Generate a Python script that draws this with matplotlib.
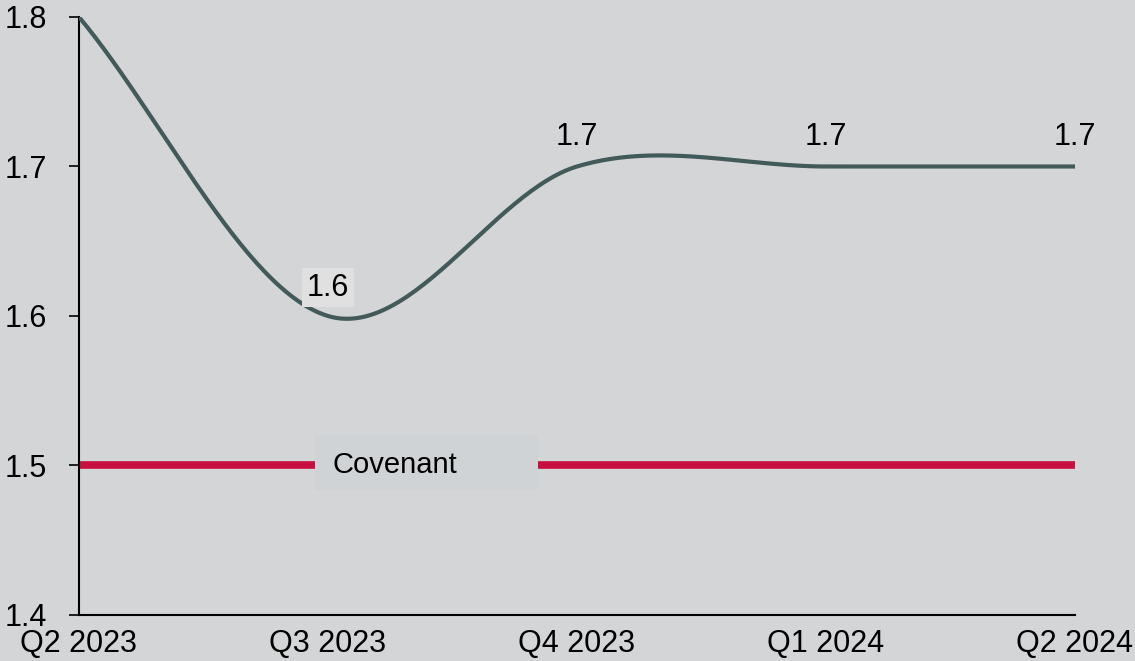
import numpy as np
import matplotlib
matplotlib.use("Agg")
import matplotlib.pyplot as plt

quarters = ["Q2 2023", "Q3 2023", "Q4 2023", "Q1 2024", "Q2 2024"]
ratio = [1.8, 1.6, 1.7, 1.7, 1.7]
covenant = 1.5
y_ticks = [1.4, 1.5, 1.6, 1.7, 1.8]

BG = "#d4d5d6"
LINE = "#435a5a"
RED = "#c8103e"
FS = 22

plt.rcParams["font.family"] = ["Liberation Sans", "DejaVu Sans"]


def smooth_curve(y, steps=60):
    """Cubic Hermite curve through the points; central-difference tangents
    inside, one-sided tangents at the two ends."""
    y = np.asarray(y, dtype=float)
    n = len(y)
    m = np.zeros(n)
    m[0] = y[1] - y[0]
    m[-1] = y[-1] - y[-2]
    for i in range(1, n - 1):
        m[i] = (y[i + 1] - y[i - 1]) / 2.0
    xs, ys = [], []
    for i in range(n - 1):
        t = np.linspace(0, 1, steps, endpoint=(i == n - 2))
        h00 = 2 * t**3 - 3 * t**2 + 1
        h10 = t**3 - 2 * t**2 + t
        h01 = -2 * t**3 + 3 * t**2
        h11 = t**3 - t**2
        xs.append(i + t)
        ys.append(h00 * y[i] + h10 * m[i] + h01 * y[i + 1] + h11 * m[i + 1])
    return np.concatenate(xs), np.concatenate(ys)


fig = plt.figure(figsize=(11.35, 6.61), dpi=100, facecolor=BG)
ax = fig.add_axes([0.0696, 0.0696, 0.8775, 0.9047], facecolor=BG)

x = np.arange(len(quarters))
cx, cy = smooth_curve(ratio)
ax.plot(cx, cy, color=LINE, lw=3, solid_capstyle="round", zorder=3)

# covenant threshold with its label box
ax.plot([x[0], x[-1]], [covenant, covenant], color=RED, lw=5.5,
        solid_capstyle="butt", zorder=2)
ax.axvspan(0.948, 1.843, ymin=0.209, ymax=0.301,
           color="#d0d3d6", lw=0, zorder=3)
ax.text(1.02, covenant, "Covenant", fontsize=21, ha="left", va="center",
        zorder=4)

# value labels
for i in range(1, len(ratio)):
    v = ratio[i]
    if i == 1:
        ax.text(x[i], v + 0.019, f"{v:.1f}", fontsize=FS,
                ha="center", va="center", zorder=5,
                bbox=dict(boxstyle="square,pad=0.15", fc="#e0e0e0", ec="none"))
    else:
        ax.text(x[i], v + 0.0195, f"{v:.1f}", fontsize=FS,
                ha="center", va="center", zorder=5)

ax.set_xlim(x[0], x[-1])
ax.set_ylim(1.4, 1.8)
ax.set_xticks(x)
ax.set_xticklabels(quarters)
ax.set_yticks(y_ticks)
ax.set_yticklabels([f"{v:.1f}" for v in y_ticks])
ax.tick_params(axis="x", length=0, pad=10, labelsize=FS)
ax.tick_params(axis="y", length=7, width=1.2, pad=16, labelsize=FS)
for s in ["top", "right"]:
    ax.spines[s].set_visible(False)
for s in ["left", "bottom"]:
    ax.spines[s].set_linewidth(1.5)
    ax.spines[s].set_color("black")

fig.savefig("out.png", dpi=100, facecolor=BG)
